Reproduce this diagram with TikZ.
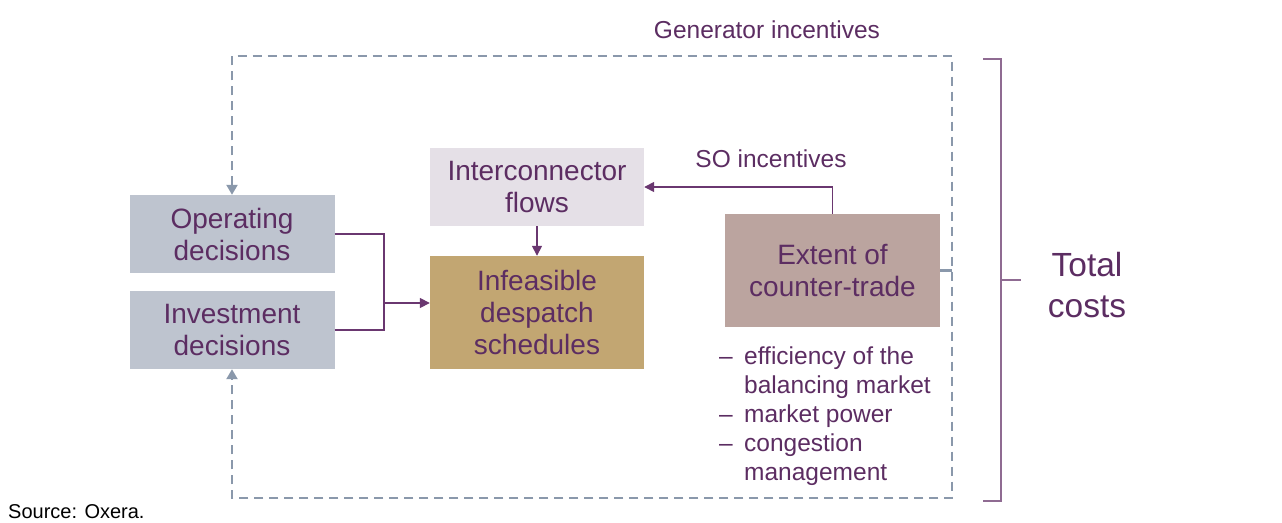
\documentclass[tikz,border=0pt]{standalone}
\usepackage{fontspec}
\setmainfont{Liberation Sans}
\usetikzlibrary{arrows.meta}
\definecolor{txt}{HTML}{5C2D62}
\definecolor{link}{HTML}{6A3770}
\definecolor{decbox}{HTML}{BEC4CF}
\definecolor{icbox}{HTML}{E5E0E7}
\definecolor{infbox}{HTML}{C2A672}
\definecolor{extbox}{HTML}{BBA49F}
\definecolor{dashgray}{HTML}{8A98AB}
\definecolor{brk}{HTML}{8F6B92}
\tikzset{
  box/.style={inner sep=0pt, align=center, text=txt,
    font=\fontsize{28}{32}\selectfont},
  conn/.style={draw=link, line width=1.6pt},
  arr/.style={conn, -{Triangle[length=10pt,width=10pt]}},
  dsh/.style={draw=dashgray, line width=2.2pt, dash pattern=on 9pt off 6pt,
    {Triangle[length=10pt,width=11pt]}-{Triangle[length=10pt,width=11pt]}},
  brace/.style={draw=brk, line width=1.6pt},
  lbl/.style={text=txt, inner sep=0pt, font=\fontsize{24.5}{29}\selectfont}
}
\begin{document}
\begin{tikzpicture}[x=1pt, y=-1pt]
\useasboundingbox (0,0) rectangle (1282,522);

% boxes
\node[box, fill=decbox, minimum width=205pt, minimum height=78pt] (op)  at (232,234) {Operating\\decisions};
\node[box, fill=decbox, minimum width=205pt, minimum height=78pt] (inv) at (232,330) {Investment\\decisions};
\node[box, fill=icbox,  minimum width=214pt, minimum height=78pt] (ic)  at (537,187) {Interconnector\\flows};
\node[box, fill=infbox, minimum width=214pt, minimum height=113pt] (inf) at (537,312.5) {Infeasible\\despatch\\schedules};
\node[box, fill=extbox, minimum width=215pt, minimum height=113pt] (ext) at (832.5,270.5) {Extent of\\counter-trade};

% decisions merge into infeasible schedules
\coordinate (j) at (384,303);
\draw[conn] (op.east) -| (j);
\draw[conn] (inv.east) -| (j);
\draw[arr] (j) -- (j -| inf.west);
\draw[arr] (ic.south) -- (inf.north);

% SO incentives
\draw[arr] (ext.north) |- (ic.east);
\node[lbl] (so) at (771,159) {SO incentives};

% generator incentives loop
\coordinate (tl) at (232,56);
\coordinate (tr) at (952,56);
\coordinate (br) at (952,498);
\coordinate (bl) at (232,498);
\draw[dsh] (op.north) -- (tl) -- (tr) -- (br) -- (bl) -- (inv.south);
\coordinate (xr) at (952,270.5);
\draw[draw=dashgray, line width=2.2pt] (ext.east) -- (xr);
\node[lbl] (gen) at (767,30) {Generator incentives};

% factors
\node[lbl, anchor=north west, align=left] (list) at (719,347)
  {\makebox[25pt][l]{–}efficiency of the\\
   \makebox[25pt][l]{}balancing market\\
   \makebox[25pt][l]{–}market power\\
   \makebox[25pt][l]{–}congestion\\
   \makebox[25pt][l]{}management};

% total costs bracket
\coordinate (b1) at (983,59);
\coordinate (b2) at (1001,59);
\coordinate (b3) at (1001,501);
\coordinate (b4) at (983,501);
\coordinate (bm) at (1001,280);
\coordinate (bt) at (1021,280);
\draw[brace] (b1) -- (b2) -- (b3) -- (b4);
\draw[brace] (bm) -- (bt);
\node[text=txt, inner sep=0pt, align=center, font=\fontsize{33.5}{41}\selectfont] (tot) at (1087,285) {Total\\costs};

\node[anchor=west, inner sep=0pt, font=\fontsize{20}{22}\selectfont] (src) at (8,512) {Source: Oxera.};
\end{tikzpicture}
\end{document}
